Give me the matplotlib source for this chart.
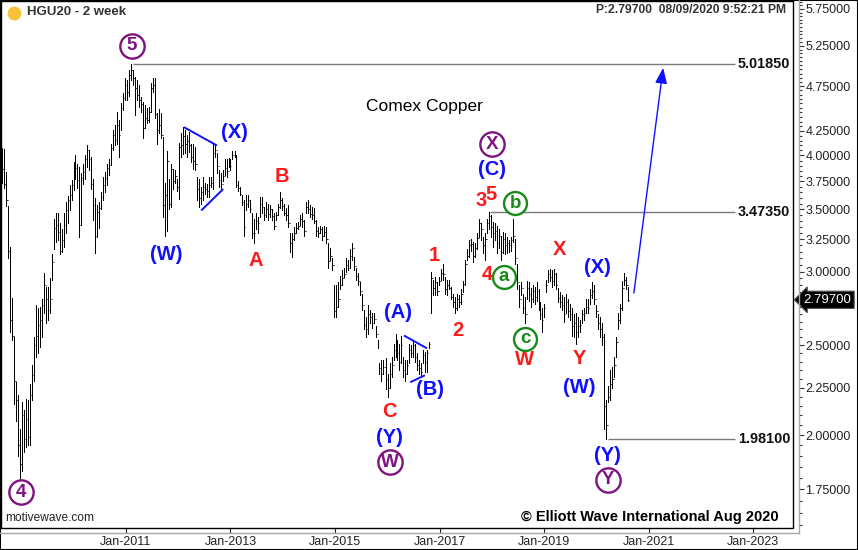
import numpy as np
import pandas as pd
import matplotlib
matplotlib.use("Agg")
import matplotlib.pyplot as plt
import matplotlib.transforms as mtransforms
from matplotlib.patches import Rectangle
from matplotlib.lines import Line2D
from matplotlib.ticker import NullFormatter

plt.rcParams['font.family'] = ['Liberation Sans', 'DejaVu Sans']

# 2-week bars, Aug 2008 .. Aug 2020
highs = [
    # 2008 - 2011
    4.07, 4.06, 3.84, 3.53, 3.19, 2.81, 2.55, 2.28, 2.21, 2.03, 2.17, 2.13, 2.19, 2.18, 2.27, 2.38, 2.55, 2.76, 2.74, 2.75,
    2.80, 2.99, 2.89, 2.89, 2.95, 3.13, 3.42, 3.47, 3.47, 3.38, 3.33, 3.47, 3.56, 3.62, 3.72, 3.76, 3.94, 4.00, 3.92, 3.89,
    3.83, 3.92, 4.00, 4.10, 4.05, 3.98, 3.77, 3.60, 3.54, 3.56, 3.65, 3.79, 3.84, 3.92, 3.96, 4.11, 4.26, 4.31, 4.45, 4.37,
    4.55, 4.67, 4.85, 4.82, 4.94, 5.0185, 4.94, 4.86, 4.82, 4.76, 4.62, 4.57, 4.53, 4.50, 4.51, 4.79, 4.85, 4.85, 4.44, 4.49,
    4.44, 4.19, 3.74,
    # 2011 - 2015
    4.04, 3.77, 3.92, 3.87, 3.86, 3.77, 4.13, 4.23, 4.29, 4.26, 4.21, 4.24, 4.11, 4.12, 4.08, 3.79, 3.77, 3.70, 3.79, 3.74,
    3.73, 3.79, 3.79, 4.11, 4.11, 4.02, 3.86, 3.83, 3.86, 3.96, 3.96, 3.97, 3.96, 4.04, 4.04, 4.00, 3.75, 3.70, 3.63, 3.58,
    3.63, 3.63, 3.58, 3.47, 3.42, 3.47, 3.43, 3.61, 3.61, 3.52, 3.56, 3.55, 3.54, 3.50, 3.47, 3.48, 3.55, 3.65, 3.60, 3.55,
    3.51, 3.54, 3.30, 3.30, 3.35, 3.38, 3.39, 3.45, 3.47, 3.41, 3.56, 3.58, 3.54, 3.52, 3.51, 3.41, 3.35, 3.36, 3.35, 3.36,
    3.35, 3.22, 3.18, 3.10, 2.90,
    # 2015 - 2018
    2.90, 2.92, 2.97, 3.01, 3.03, 3.10, 3.09, 3.17, 3.22, 3.11, 3.03, 2.99, 2.92, 2.84, 2.73, 2.68, 2.76, 2.73, 2.71, 2.71,
    2.62, 2.53, 2.39, 2.41, 2.41, 2.42, 2.33, 2.39, 2.43, 2.51, 2.57, 2.53, 2.51, 2.56, 2.43, 2.41, 2.41, 2.51, 2.50, 2.53,
    2.51, 2.45, 2.41, 2.39, 2.47, 2.46, 2.47, 2.52, 3.00, 2.94, 2.96, 2.92, 2.96, 3.02, 3.06, 2.96, 2.94, 2.94, 2.89, 2.84,
    2.82, 2.84, 2.83, 2.87, 2.93, 3.09, 3.17, 3.24, 3.25, 3.23, 3.22, 3.30, 3.42, 3.38, 3.27, 3.30, 3.42, 3.4735, 3.45, 3.39,
    3.38, 3.36, 3.33, 3.28, 3.31, 3.30,
    # 2018 - 2020
    3.27, 3.24, 3.27, 3.42, 3.25, 3.06, 2.90, 2.92, 2.84, 2.82, 2.93, 2.92, 2.88, 2.90, 2.89, 2.92, 2.87, 2.78, 2.74, 2.77,
    2.94, 3.01, 3.02, 3.01, 3.02, 2.99, 2.88, 2.85, 2.83, 2.82, 2.84, 2.80, 2.77, 2.74, 2.70, 2.71, 2.68, 2.66, 2.73, 2.74,
    2.80, 2.80, 2.87, 2.92, 2.90, 2.76, 2.70, 2.68, 2.64, 2.57, 2.18, 2.26, 2.35, 2.37, 2.43, 2.55, 2.71, 2.77, 2.93, 2.99,
    2.96, 2.89,
]
lows = [
    3.74, 3.69, 3.53, 3.10, 2.58, 2.53, 2.16, 2.07, 1.90, 1.80, 1.83, 1.92, 1.94, 1.95, 1.95, 2.18, 2.29, 2.43, 2.45, 2.49,
    2.55, 2.71, 2.64, 2.66, 2.71, 2.94, 3.17, 3.23, 3.24, 3.13, 3.15, 3.19, 3.30, 3.38, 3.49, 3.58, 3.67, 3.77, 3.69, 3.27,
    3.37, 3.73, 3.77, 3.89, 3.86, 3.68, 3.41, 3.14, 3.27, 3.34, 3.50, 3.58, 3.65, 3.72, 3.81, 3.91, 4.05, 4.10, 4.12, 3.98,
    4.26, 4.48, 4.59, 4.59, 4.64, 4.82, 4.76, 4.42, 4.59, 4.51, 4.46, 4.18, 4.28, 4.33, 4.35, 4.46, 4.68, 4.39, 4.12, 4.23,
    4.18, 3.43, 3.28,
    3.32, 3.50, 3.52, 3.68, 3.74, 3.66, 3.59, 3.98, 4.01, 4.02, 3.98, 4.03, 3.94, 3.87, 3.86, 3.58, 3.52, 3.55, 3.58, 3.64,
    3.61, 3.61, 3.70, 3.68, 3.98, 3.83, 3.70, 3.68, 3.75, 3.81, 3.79, 3.89, 3.86, 3.96, 3.98, 3.70, 3.66, 3.63, 3.54, 3.28,
    3.49, 3.52, 3.48, 3.26, 3.22, 3.33, 3.30, 3.43, 3.47, 3.41, 3.43, 3.41, 3.43, 3.41, 3.33, 3.41, 3.45, 3.51, 3.49, 3.45,
    3.41, 3.35, 3.15, 3.11, 3.24, 3.30, 3.33, 3.37, 3.35, 3.28, 3.47, 3.47, 3.43, 3.42, 3.38, 3.28, 3.27, 3.30, 3.24, 3.28,
    3.22, 3.03, 3.09, 3.01, 2.68,
    2.68, 2.75, 2.87, 2.90, 2.96, 3.00, 3.01, 3.03, 3.09, 3.01, 2.94, 2.90, 2.83, 2.73, 2.60, 2.55, 2.57, 2.64, 2.61, 2.64,
    2.55, 2.48, 2.33, 2.29, 2.33, 2.24, 2.20, 2.25, 2.31, 2.41, 2.43, 2.41, 2.35, 2.39, 2.31, 2.29, 2.33, 2.39, 2.43, 2.43,
    2.40, 2.35, 2.33, 2.32, 2.39, 2.34, 2.34, 2.48, 2.71, 2.83, 2.83, 2.83, 2.90, 2.94, 2.94, 2.84, 2.83, 2.87, 2.80, 2.75,
    2.71, 2.73, 2.75, 2.77, 2.85, 2.90, 3.09, 3.11, 3.16, 3.07, 3.11, 3.17, 3.27, 3.24, 3.14, 3.09, 3.30, 3.33, 3.27, 3.19,
    3.24, 3.14, 3.18, 3.09, 3.14, 3.13,
    3.14, 3.15, 3.16, 3.23, 3.06, 2.87, 2.75, 2.83, 2.71, 2.64, 2.80, 2.79, 2.75, 2.78, 2.77, 2.79, 2.73, 2.67, 2.58, 2.68,
    2.85, 2.92, 2.93, 2.89, 2.90, 2.87, 2.78, 2.75, 2.73, 2.65, 2.71, 2.68, 2.66, 2.56, 2.55, 2.51, 2.55, 2.58, 2.64, 2.66,
    2.71, 2.71, 2.77, 2.81, 2.77, 2.68, 2.60, 2.55, 2.50, 2.03, 1.981, 2.17, 2.18, 2.25, 2.31, 2.43, 2.60, 2.64, 2.73, 2.90,
    2.87, 2.79,
]
closes = [
    3.87, 3.73, 3.58, 3.16, 2.66, 2.56, 2.29, 2.18, 1.95, 1.86, 2.10, 1.98, 2.08, 1.99, 2.21, 2.32, 2.50, 2.56, 2.63, 2.66,
    2.76, 2.90, 2.80, 2.73, 2.80, 3.07, 3.34, 3.37, 3.31, 3.16, 3.24, 3.37, 3.49, 3.58, 3.63, 3.72, 3.86, 3.88, 3.76, 3.37,
    3.78, 3.84, 3.96, 4.05, 3.96, 3.73, 3.54, 3.28, 3.48, 3.51, 3.61, 3.72, 3.78, 3.88, 3.91, 4.07, 4.21, 4.16, 4.31, 4.21,
    4.50, 4.61, 4.76, 4.68, 4.88, 4.94, 4.85, 4.73, 4.65, 4.59, 4.54, 4.28, 4.39, 4.37, 4.46, 4.73, 4.76, 4.43, 4.26, 4.31,
    4.21, 3.54, 3.63,
    3.95, 3.55, 3.87, 3.75, 3.80, 3.70, 4.08, 4.10, 4.20, 4.12, 4.15, 4.10, 3.98, 3.95, 3.92, 3.68, 3.60, 3.65, 3.70, 3.68,
    3.66, 3.72, 3.74, 4.02, 4.05, 3.90, 3.76, 3.73, 3.80, 3.88, 3.85, 3.94, 3.90, 4.00, 4.01, 3.72, 3.69, 3.64, 3.56, 3.35,
    3.55, 3.58, 3.50, 3.30, 3.30, 3.40, 3.38, 3.55, 3.52, 3.45, 3.50, 3.46, 3.50, 3.44, 3.36, 3.45, 3.52, 3.58, 3.53, 3.47,
    3.45, 3.38, 3.22, 3.25, 3.30, 3.34, 3.36, 3.42, 3.40, 3.32, 3.52, 3.50, 3.46, 3.45, 3.40, 3.32, 3.30, 3.33, 3.28, 3.31,
    3.25, 3.08, 3.12, 3.05, 2.72,
    2.75, 2.80, 2.90, 2.95, 2.98, 3.05, 3.03, 3.12, 3.18, 3.04, 2.97, 2.93, 2.86, 2.76, 2.63, 2.60, 2.70, 2.68, 2.64, 2.67,
    2.57, 2.50, 2.36, 2.33, 2.37, 2.30, 2.25, 2.33, 2.38, 2.47, 2.52, 2.45, 2.40, 2.50, 2.35, 2.33, 2.38, 2.47, 2.45, 2.50,
    2.43, 2.38, 2.36, 2.34, 2.44, 2.40, 2.45, 2.51, 2.95, 2.88, 2.92, 2.86, 2.93, 2.99, 2.98, 2.87, 2.90, 2.88, 2.82, 2.78,
    2.74, 2.80, 2.78, 2.84, 2.91, 3.06, 3.12, 3.20, 3.21, 3.12, 3.18, 3.26, 3.38, 3.33, 3.20, 3.25, 3.38, 3.44, 3.35, 3.30,
    3.32, 3.22, 3.28, 3.15, 3.25, 3.20,
    3.22, 3.20, 3.24, 3.28, 3.10, 2.92, 2.80, 2.88, 2.74, 2.70, 2.88, 2.84, 2.80, 2.86, 2.82, 2.86, 2.77, 2.70, 2.66, 2.74,
    2.90, 2.98, 2.96, 2.93, 2.98, 2.90, 2.81, 2.78, 2.76, 2.70, 2.78, 2.72, 2.70, 2.62, 2.64, 2.58, 2.62, 2.63, 2.70, 2.71,
    2.75, 2.74, 2.83, 2.86, 2.80, 2.72, 2.64, 2.60, 2.55, 2.15, 2.05, 2.20, 2.27, 2.30, 2.38, 2.52, 2.66, 2.74, 2.88, 2.94,
    2.90, 2.797,
]
first_bar = '2008-08-18'
last_bar = '2020-08-10'
last_price = '2.79700'

# horizontal levels
levels = [5.0185, 3.4735, 1.981]
level_labels = ['5.01850', '3.47350', '1.98100']
level_from = [2011.13, 2017.97, 2020.22]

price_ticks = [5.75, 5.25, 4.75, 4.25, 4.00, 3.75, 3.50, 3.25, 3.00, 2.75, 2.50, 2.25, 2.00, 1.75]
price_labels = ['5.75000', '5.25000', '4.75000', '4.25000', '4.00000', '3.75000', '3.50000', '3.25000',
                '3.00000', '', '2.50000', '2.25000', '2.00000', '1.75000']
price_minor = [1.60, 1.65, 1.70, 1.80, 1.85, 1.90, 1.95, 2.05, 2.10, 2.15, 2.20, 2.30, 2.35, 2.40, 2.45,
               2.55, 2.60, 2.65, 2.70, 2.80, 2.85, 2.90, 2.95, 3.05, 3.10, 3.15, 3.20, 3.30, 3.35, 3.40,
               3.45, 3.55, 3.60, 3.65, 3.70, 3.80, 3.85, 3.90, 3.95, 4.05, 4.10, 4.15, 4.20, 4.30, 4.35,
               4.40, 4.45, 4.50, 4.55, 4.60, 4.65, 4.70, 4.80, 4.85, 4.90, 4.95, 5.00, 5.05, 5.10, 5.15,
               5.20, 5.30, 5.35, 5.40, 5.45, 5.50, 5.55, 5.60, 5.65, 5.70, 5.80, 5.85]
year_ticks = [2011, 2013, 2015, 2017, 2019, 2021, 2023]
year_labels = ['Jan-2011', 'Jan-2013', 'Jan-2015', 'Jan-2017', 'Jan-2019', 'Jan-2021', 'Jan-2023']

BLUE = '#0f0fff'
RED = '#ff1a1a'
PURPLE = '#7f137f'
GREEN = '#178a17'

# wave labels (decimal year, price)
wave_text = ['(X)', '(W)', 'A', 'B', '(A)', '(B)', 'C', '(Y)', '1', '2', '3', '5', '4',
             '(C)', 'W', 'X', 'Y', '(X)', '(W)', '(Y)']
wave_x = [2013.07, 2011.77, 2013.49, 2013.99, 2016.21, 2016.82, 2016.05, 2016.05, 2016.91, 2017.35,
          2017.79, 2017.99, 2017.91, 2018.01, 2018.62, 2019.29, 2019.67, 2020.03, 2019.67, 2020.21]
wave_y = [4.23, 3.13, 3.08, 3.80, 2.71, 2.24, 2.12, 1.99, 3.12, 2.59,
          3.58, 3.63, 2.98, 3.86, 2.41, 3.17, 2.42, 3.03, 2.25, 1.90]
wave_col = [BLUE, BLUE, RED, RED, BLUE, BLUE, RED, BLUE, RED, RED,
            RED, RED, RED, BLUE, RED, RED, RED, BLUE, BLUE, BLUE]

circ_text = ['5', '4', 'W', 'X', 'Y', 'b', 'a', 'c']
circ_x = [2011.11, 2008.99, 2016.05, 2018.01, 2020.23, 2018.45, 2018.23, 2018.64]
circ_y = [5.25, 1.737, 1.87, 4.115, 1.79, 3.555, 2.96, 2.54]
circ_col = [PURPLE, PURPLE, PURPLE, PURPLE, PURPLE, GREEN, GREEN, GREEN]

# triangle trendlines and projection arrow
tri_x = [[2012.11, 2012.74], [2012.44, 2012.86], [2016.32, 2016.76], [2016.44, 2016.72]]
tri_y = [[4.29, 4.10], [3.49, 3.68], [2.56, 2.48], [2.28, 2.32]]
arrow_from = (2020.72, 2.845)
arrow_to = (2021.28, 4.97)

highs = np.array(highs)
lows = np.array(lows)
closes = np.array(closes)
opens = np.r_[closes[0], closes[:-1]]
dates = pd.date_range(first_bar, last_bar, periods=len(closes))
t = np.asarray(dates.year + (dates.dayofyear - 1) / 365.25, dtype=float)
dt = 14 / 365.25

W, H = 858, 550
fig = plt.figure(figsize=(W / 100, H / 100), dpi=100)
ax = fig.add_axes([1 / W, 22 / H, 792 / W, 527 / H])
ax.set_yscale('log')
ax.set_xlim(2008.608, 2023.765)
ax.set_ylim(1.589, 5.865)

# OHLC bars
ax.vlines(t, lows, highs, color='black', lw=0.72, antialiased=False)
ax.hlines(opens, t - dt * 0.35, t, color='black', lw=0.72)
ax.hlines(closes, t, t + dt * 0.35, color='black', lw=0.72)

# levels
for lv, lab, x0 in zip(levels, level_labels, level_from):
    ax.hlines(lv, x0, 2022.655, color='#7a7a7a', lw=1)
    ax.text(2023.71, lv, lab, ha='right', va='center', fontsize=10.4, fontweight='bold', color='#111111')

for xs, ys in zip(tri_x, tri_y):
    ax.plot(xs, ys, color=BLUE, lw=1.4, solid_capstyle='butt')
ax.annotate('', xy=arrow_to, xytext=arrow_from,
            arrowprops=dict(arrowstyle='-|>,head_length=0.65,head_width=0.25', color=BLUE,
                            lw=1, mutation_scale=14.5, shrinkA=0, shrinkB=0))

for s, x, y, c in zip(wave_text, wave_x, wave_y, wave_col):
    ax.text(x, y, s, ha='center', va='center', fontsize=14.5, fontweight='bold', color=c, zorder=6)

for s, x, y, c in zip(circ_text, circ_x, circ_y, circ_col):
    ms = 17.5 if c == PURPLE else 16.5
    ax.plot([x], [y], 'o', ms=ms, mfc='white', mec=c, mew=1.7, zorder=6, clip_on=False)
    ax.text(x, y, s, ha='center', va='center', fontsize=13.5, fontweight='bold', color=c, zorder=7)

ax.text(2016.72, 4.52, 'Comex Copper', ha='center', va='center', fontsize=12.5, color='black')

# header / footer texts (axes coords from pixels)
def axp(px, py):
    return ((px - 1) / 792, (528 - py) / 527)

ax.plot(*axp(14, 13), 'o', ms=9, color='#f8c33a', transform=ax.transAxes, clip_on=False)
ax.text(*axp(27, 12), 'HGU20 - 2 week', transform=ax.transAxes, ha='left', va='center',
        fontsize=9.5, fontweight='bold', color='#333333')
ax.text(*axp(786, 10), 'P:2.79700  08/09/2020 9:52:21 PM', transform=ax.transAxes, ha='right',
        va='center', fontsize=8.7, fontweight='bold', color='#333333')
ax.text(*axp(5, 518), 'motivewave.com', transform=ax.transAxes, ha='left', va='center',
        fontsize=8.6, color='#222222')
ax.text(*axp(779, 517), '\u00a9 Elliott Wave International Aug 2020', transform=ax.transAxes,
        ha='right', va='center', fontsize=10.5, fontweight='bold', color='black')

# axes styling
for side in ['top', 'left']:
    ax.spines[side].set_visible(False)
ax.spines['right'].set_position(('outward', 6 * 0.72))
ax.spines['bottom'].set_position(('outward', 5 * 0.72))
ax.spines['right'].set_visible(False)
ax.spines['bottom'].set_visible(False)
ax.add_patch(Rectangle((0, 0), 1, 1, transform=ax.transAxes, fill=False, ec='black', lw=1.0,
                       clip_on=False, zorder=8))
fig.add_artist(Line2D([799 / W, 799 / W], [(H - 533) / H, 1], color='#a8a8a8', lw=1))
fig.add_artist(Line2D([0, 799 / W], [(H - 533) / H, (H - 533) / H], color='#a8a8a8', lw=1))
fig.add_artist(Rectangle((0, 0), 1, 1, transform=fig.transFigure, fill=False, ec='black', lw=1.5))

ax.yaxis.tick_right()
ax.set_yticks(price_ticks)
ax.set_yticklabels(price_labels)
ax.set_yticks(price_minor, minor=True)
ax.yaxis.set_minor_formatter(NullFormatter())
ax.tick_params(axis='y', which='major', direction='out', length=3.5, width=0.8, color='#333333',
               labelsize=9, pad=1.2, labelcolor='#222222')
ax.tick_params(axis='y', which='minor', direction='out', length=2.2, width=0.8, color='#333333')

ax.set_xticks(year_ticks)
ax.set_xticklabels(year_labels)
ax.set_xticks([], minor=True)
ax.tick_params(axis='x', which='major', direction='in', length=3.6, width=0.8, color='#222222',
               labelsize=9, pad=2, labelcolor='#222222')

# last price tag
blend = mtransforms.blended_transform_factory(ax.transAxes, ax.transData)
ax.text(1.0135, float(closes[-1]), last_price, transform=blend, ha='left', va='center', fontsize=9.5,
        color='white', clip_on=False, zorder=10,
        bbox=dict(boxstyle='larrow,pad=0.2', fc='black', ec='#555555', lw=0.8))

fig.savefig('out.png', dpi=100)
